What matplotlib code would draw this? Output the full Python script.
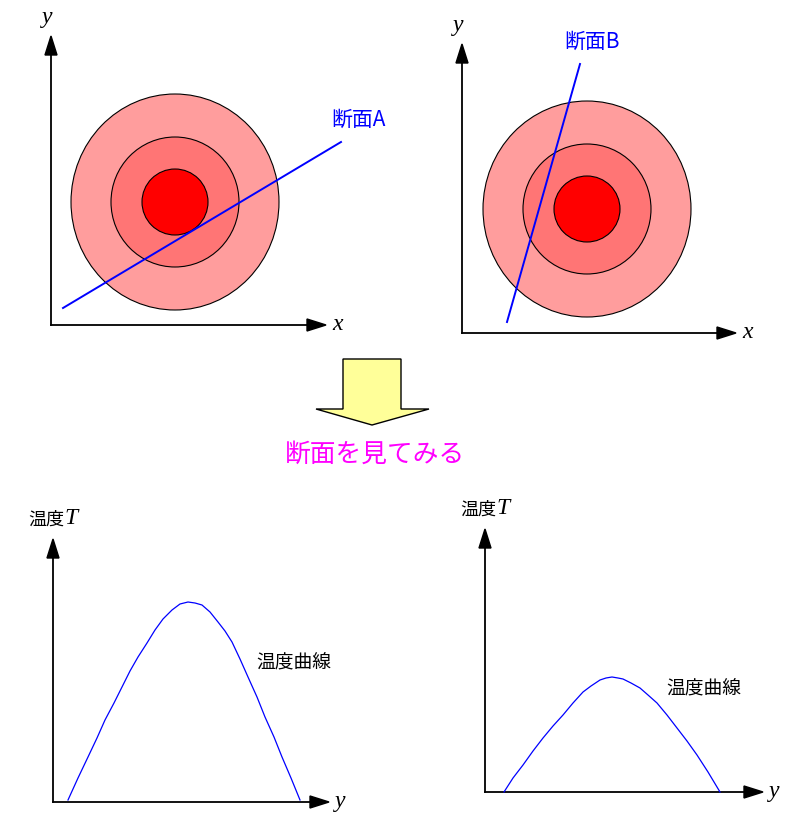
import numpy as np
import matplotlib as mpl
mpl.use('Agg')
import matplotlib.pyplot as plt
from matplotlib.patches import Ellipse, Polygon

plt.rcParams['font.family'] = ['Noto Sans CJK JP', 'DejaVu Sans']

W, H = 794, 821

# axes of the four panels: (origin x, origin y, x arrow tip, y arrow tip)
axes_frames = [
    (51, 325, 326, 36),
    (462, 333, 736, 44),
    (53, 802, 329, 539),
    (485, 792, 763, 529),
]
axis_names = [('x', 'y'), ('x', 'y'), ('y', 'T'), ('y', 'T')]

# concentric temperature zones (center x, center y, width, height)
centers = [(175, 202), (587, 209)]
zone_w = [208, 128, 66]
zone_h = [216, 130, 66]
zone_colors = ['#ff9d9d', '#ff7575', '#ff0000']

# section lines
section_a_x = [63, 341]
section_a_y = [308, 142]
section_b_x = [507, 580]
section_b_y = [322, 64]
section_labels = ['断面A', '断面B']
section_label_pos = [(331, 120), (564, 42)]

# temperature curves
curve_a_x = [68, 78, 88, 97, 105, 114, 122, 130, 138, 147, 155, 163, 172, 180, 188, 195, 202, 210,
             218, 225, 232, 240, 248, 257, 265, 274, 282, 291, 300]
curve_a_y = [800, 778, 757, 738, 720, 703, 687, 671, 657, 643, 630, 619, 610, 604, 602, 603, 605, 612,
             622, 631, 642, 659, 677, 697, 717, 737, 757, 778, 800]
curve_b_x = [504, 513, 523, 533, 543, 553, 563, 573, 583, 591, 600, 606, 612, 618, 623, 631, 640,
             648, 657, 667, 677, 687, 697, 708, 720]
curve_b_y = [792, 778, 765, 751, 738, 726, 715, 703, 692, 686, 680, 678, 677, 678, 679, 683, 688,
             695, 703, 715, 728, 741, 755, 772, 792]
curve_label_pos = [(256, 663), (666, 689)]

# down arrow
arrow_x = [343, 401, 401, 429, 372, 316, 343]
arrow_y = [359, 359, 409, 409, 425, 409, 409]
caption = '断面を見てみる'

fig = plt.figure(figsize=(W / 100, H / 100), dpi=100)
ax = fig.add_axes([0, 0, 1, 1])
ax.set_xlim(0, W)
ax.set_ylim(H, 0)
ax.axis('off')

serif_it = dict(family='Liberation Serif', style='italic', fontsize=17)

for (ox, oy, tx, ty), (nx, ny) in zip(axes_frames, axis_names):
    ax.plot([ox, tx - 16], [oy, oy], color='black', lw=1.3)
    ax.plot([ox, ox], [oy, ty + 16], color='black', lw=1.3)
    ax.add_patch(Polygon([(tx, oy), (tx - 19, oy - 6), (tx - 19, oy + 6)], closed=True, color='black'))
    ax.add_patch(Polygon([(ox, ty), (ox - 6, ty + 19), (ox + 6, ty + 19)], closed=True, color='black'))
    ax.text(tx + 6, oy, nx, ha='left', va='center', **serif_it)
    if ny == 'T':
        ax.text(ox - 25, ty - 19, '温度', ha='left', va='center', fontsize=13)
        ax.text(ox + 11, ty - 20, 'T', ha='left', va='center', **serif_it)
    else:
        ax.text(ox - 4, ty - 18, ny, ha='center', va='center', **serif_it)

for cx, cy in centers:
    for w, h, c in zip(zone_w, zone_h, zone_colors):
        ax.add_patch(Ellipse((cx, cy), w, h, facecolor=c, edgecolor='black', lw=0.8))

ax.plot(section_a_x, section_a_y, color='#0000ff', lw=1.4)
ax.plot(section_b_x, section_b_y, color='#0000ff', lw=1.4)
for lab, (lx, ly) in zip(section_labels, section_label_pos):
    ax.text(lx, ly, lab, color='#0000ff', ha='left', va='center', fontsize=15)

ax.plot(curve_a_x, curve_a_y, color='#0000ff', lw=0.9)
ax.plot(curve_b_x, curve_b_y, color='#0000ff', lw=0.9)
for lx, ly in curve_label_pos:
    ax.text(lx, ly, '温度曲線', ha='left', va='center', fontsize=13.5)

ax.add_patch(Polygon(list(zip(arrow_x, arrow_y)), closed=True, facecolor='#ffff99', edgecolor='black', lw=1))
ax.text(375, 455, caption, color='#ff00ff', ha='center', va='center', fontsize=18.5)

plt.savefig('out.png', dpi=100)
plt.close()
